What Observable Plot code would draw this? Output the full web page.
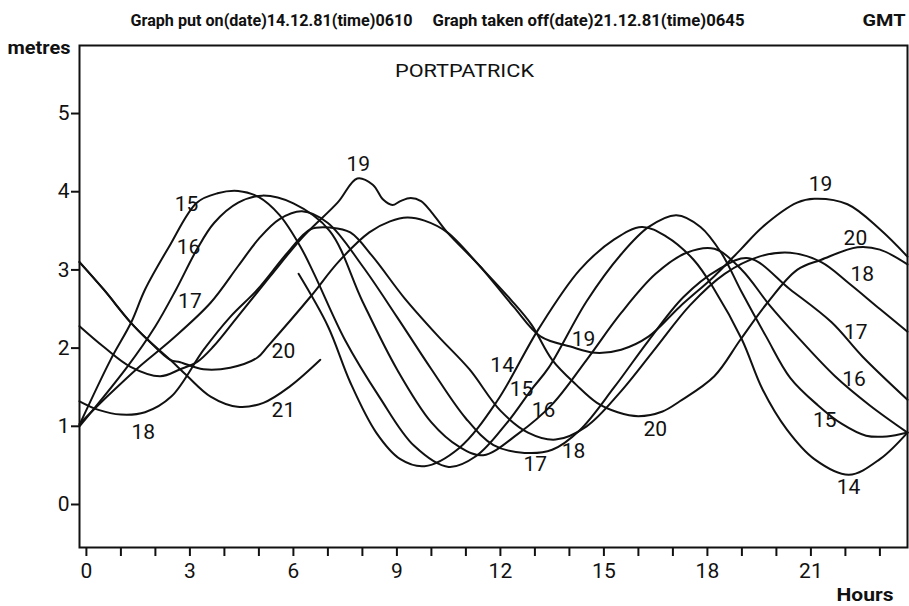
<!DOCTYPE html>
<html>
<head>
<meta charset="utf-8">
<script src="https://cdn.jsdelivr.net/npm/d3@7"></script>
<script src="https://cdn.jsdelivr.net/npm/@observablehq/plot@0.6"></script>
<style>
  html, body { margin: 0; padding: 0; background: #fff; }
  #chart svg { display: block; }
</style>
</head>
<body>
<div id="chart"></div>
<script>
// ---- data (hour of day, metres) ----
const dayNames = ["14", "15", "16", "17", "18", "19", "20", "21"];

const day14 = [[6.15,2.95],[7.0,2.28],[7.65,1.56],[8.4,0.92],[9.1,0.58],[9.8,0.49],[10.8,0.72],[11.9,1.32],[13.1,2.24],[14.3,3.0],[15.3,3.39],[16.1,3.55],[16.8,3.43],[17.6,3.13],[18.2,2.75],[19.0,2.11],[19.6,1.47],[20.3,0.96],[21.1,0.58],[22.1,0.38],[23.0,0.58],[23.8,0.92]];
const day15 = [[-0.2,1.02],[0.7,1.85],[1.3,2.33],[1.7,2.75],[2.4,3.3],[3.2,3.86],[3.8,3.98],[4.4,4.01],[5.0,3.93],[5.6,3.7],[6.2,3.3],[6.6,2.95],[7.5,2.1],[8.5,1.37],[9.5,0.75],[10.5,0.48],[11.3,0.62],[12.2,1.05],[12.9,1.47],[13.4,1.75],[14.5,2.6],[15.5,3.2],[16.3,3.55],[17.1,3.7],[17.8,3.55],[18.4,3.22],[19.0,2.71],[19.7,2.15],[20.4,1.62],[21.2,1.27],[21.9,1.03],[22.6,0.88],[23.2,0.87],[23.8,0.92]];
const day16 = [[-0.2,1.0],[1.2,1.77],[2.0,2.28],[2.6,2.75],[3.2,3.26],[3.7,3.6],[4.4,3.86],[5.1,3.95],[6.0,3.85],[7.05,3.5],[8.0,2.6],[9.0,1.73],[10.0,1.05],[10.8,0.74],[11.5,0.63],[12.5,0.9],[13.5,1.28],[14.5,1.85],[15.5,2.45],[16.5,2.95],[17.4,3.22],[18.2,3.27],[19.0,3.0],[19.8,2.55],[20.6,2.15],[21.7,1.64],[22.7,1.27],[23.8,0.92]];
const day17 = [[-0.2,1.03],[0.6,1.38],[1.5,1.75],[2.5,2.12],[3.6,2.58],[4.4,3.05],[5.0,3.4],[5.6,3.65],[6.25,3.75],[7.0,3.6],[8.0,3.05],[9.0,2.4],[10.0,1.73],[11.0,1.1],[11.8,0.76],[12.7,0.66],[13.5,0.7],[14.3,0.95],[15.3,1.5],[16.3,2.1],[17.3,2.65],[18.3,3.0],[19.2,3.15],[20.4,2.75],[21.6,2.33],[22.5,1.89],[23.8,1.34]];
const day18 = [[-0.2,1.32],[0.35,1.21],[1.0,1.15],[1.7,1.18],[2.46,1.38],[3.4,1.98],[4.17,2.4],[4.96,2.75],[5.83,3.22],[6.5,3.52],[7.1,3.54],[7.65,3.48],[8.3,3.17],[9.2,2.65],[10.2,2.15],[11.1,1.73],[12.0,1.2],[12.8,0.92],[13.6,0.83],[14.5,1.0],[15.5,1.45],[16.5,2.0],[17.5,2.55],[18.5,2.95],[19.5,3.17],[20.4,3.22],[21.3,3.1],[22.1,2.83],[23.0,2.5],[23.8,2.21]];
const day19 = [[-0.2,2.28],[0.49,2.02],[1.28,1.76],[2.14,1.64],[2.72,1.73],[3.2,1.82],[3.68,2.02],[4.38,2.4],[5.33,2.92],[6.29,3.43],[7.28,3.86],[7.85,4.17],[8.3,4.09],[8.6,3.9],[8.87,3.83],[9.1,3.88],[9.4,3.92],[9.7,3.88],[10.0,3.74],[10.46,3.48],[11.42,3.04],[12.38,2.53],[13.16,2.15],[14.03,2.02],[14.75,1.94],[15.5,1.98],[16.3,2.15],[17.2,2.53],[18.2,2.92],[18.96,3.26],[19.6,3.55],[20.6,3.86],[21.1,3.91],[22.06,3.84],[23.0,3.52],[23.8,3.17]];
const day20 = [[-0.2,3.1],[0.5,2.75],[1.28,2.33],[1.77,2.11],[2.43,1.85],[2.72,1.82],[3.39,1.73],[4.17,1.75],[4.96,1.88],[5.25,2.02],[6.5,2.66],[7.3,3.1],[8.2,3.48],[8.8,3.62],[9.3,3.67],[9.8,3.63],[10.46,3.48],[11.42,3.04],[12.3,2.62],[12.9,2.3],[13.5,1.85],[14.2,1.53],[14.8,1.3],[15.4,1.18],[16.0,1.13],[16.7,1.19],[17.2,1.32],[18.2,1.64],[18.96,2.11],[19.74,2.58],[20.6,3.0],[21.3,3.13],[22.35,3.29],[23.0,3.26],[23.8,3.07]];
const day21 = [[-0.2,3.1],[0.5,2.75],[1.28,2.33],[1.77,2.11],[2.43,1.85],[2.93,1.64],[3.6,1.38],[4.38,1.25],[5.13,1.3],[5.9,1.51],[6.78,1.85]];

// curve labels (day, hour, metres) as written on the chart
const labelDay  = ["15","16","17","18","20","21","19", "14","15","16","17","18","19","20", "19","20","18","17","16","15","14"];
const labelHour = [2.9,2.96,3.0,1.65,5.71,5.71,7.88, 12.05,12.61,13.25,13.01,14.12,14.41,16.49, 21.28,22.29,22.49,22.3,22.25,21.4,22.09];
const labelM    = [3.84,3.29,2.6,0.93,1.96,1.21,4.35, 1.78,1.47,1.21,0.51,0.68,2.11,0.96, 4.09,3.41,2.94,2.2,1.6,1.08,0.22];

const xTicks = d3.range(0, 24);       // hourly ticks
const xLabelEvery = 3;
const yTicks = [0, 1, 2, 3, 4, 5];

const station = "PORTPATRICK";
const header1 = "Graph put on(date)14.12.81(time)0610";
const header2 = "Graph taken off(date)21.12.81(time)0645";
const header3 = "GMT";
const yTitle = "metres";
const xTitle = "Hours";

// ---- build tidy table for the library ----
const series = [day14, day15, day16, day17, day18, day19, day20, day21];
const trace = series.flatMap((pts, i) => pts.map(([h, m]) => ({day: dayNames[i], h, m})));
const labels = labelDay.map((d, i) => ({day: d, h: labelHour[i], m: labelM[i]}));

const FONT = "Roboto, 'DejaVu Sans', sans-serif";
const INK = "#111";

const chart = Plot.plot({
  width: 909,
  height: 606,
  marginLeft: 79,
  marginRight: 2,
  marginTop: 45,
  marginBottom: 59,
  style: {fontFamily: FONT, background: "#fff", color: INK},
  x: {domain: [-0.2, 23.8], label: null},
  y: {domain: [-0.55, 5.87], label: null},
  marks: [
    Plot.frame({stroke: INK, strokeWidth: 2}),
    Plot.axisX({ticks: xTicks, tickSize: 9, tickPadding: 7, strokeWidth: 2,
      tickFormat: d => d % xLabelEvery === 0 ? String(d) : "", fontSize: 21, label: null}),
    Plot.axisY({ticks: yTicks, tickSize: 8, tickPadding: 2, strokeWidth: 2,
      tickFormat: d => String(d), fontSize: 21, label: null}),
    Plot.line(trace, {x: "h", y: "m", z: "day", stroke: INK, strokeWidth: 2, curve: "catmull-rom"}),
    Plot.text(labels, {x: "h", y: "m", text: "day", fontSize: 21, fill: INK}),
    Plot.text([station], {frameAnchor: "top", lineAnchor: "middle", dx: -29, dy: 25, fontSize: 19, fill: INK}),
    Plot.text([yTitle], {frameAnchor: "top-left", lineAnchor: "middle", dx: -72, dy: 3, textAnchor: "start", fontSize: 18, fontWeight: "bold", fill: INK}),
    Plot.text([header1], {frameAnchor: "top-left", lineAnchor: "middle", dx: 51, dy: -25, textAnchor: "start", fontSize: 17, fontWeight: "bold", fill: INK}),
    Plot.text([header2], {frameAnchor: "top-left", lineAnchor: "middle", dx: 353, dy: -25, textAnchor: "start", fontSize: 17, fontWeight: "bold", fill: INK}),
    Plot.text([header3], {frameAnchor: "top-right", lineAnchor: "middle", dx: -2, dy: -25, textAnchor: "end", fontSize: 17, fontWeight: "bold", fill: INK}),
    Plot.text([xTitle], {frameAnchor: "bottom-right", lineAnchor: "middle", dx: -14, dy: 47, textAnchor: "end", fontSize: 19, fontWeight: "bold", fill: INK})
  ]
});

// fit the hand-lettered text widths of the original sheet
const fitWidths = new Map([[header1, 282], [header2, 312], [header3, 43], [yTitle, 63], [xTitle, 57], [station, 139]]);
d3.select(chart).selectAll("text").each(function () {
  const w = fitWidths.get(this.textContent);
  if (w) d3.select(this).attr("textLength", w).attr("lengthAdjust", "spacingAndGlyphs");
});
document.getElementById("chart").appendChild(chart);
</script>
</body>
</html>
